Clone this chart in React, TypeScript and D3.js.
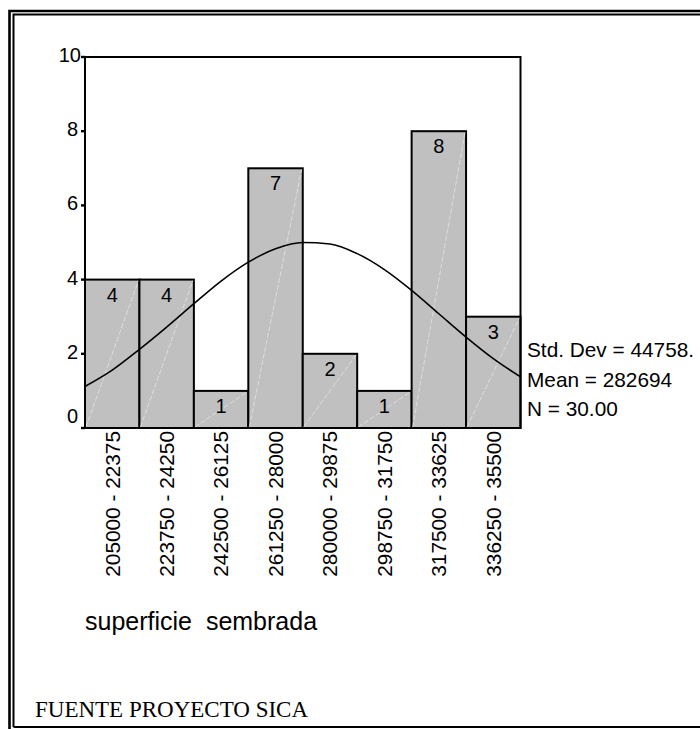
import * as d3 from 'd3'
import React from 'react'

// histogram bins (superficie sembrada)
const binLabels = [
  '205000 - 22375', '223750 - 24250', '242500 - 26125', '261250 - 28000',
  '280000 - 29875', '298750 - 31750', '317500 - 33625', '336250 - 35500',
]
const counts = [4, 4, 1, 7, 2, 1, 8, 3]
const yTicks = [0, 2, 4, 6, 8, 10]

// fitted normal curve
const curveX = [205000, 214375, 223750, 233125, 242500, 251875, 261250, 270625, 280000,
  289375, 298750, 308125, 317500, 326875, 336250, 345625, 355000]
const curveY = [1.12, 1.56, 2.12, 2.72, 3.35, 3.96, 4.47, 4.83, 5.0,
  4.96, 4.7, 4.27, 3.71, 3.08, 2.45, 1.87, 1.38]

const stats = ['Std. Dev = 44758.', 'Mean = 282694', 'N = 30.00']

const sans = "Arial, 'Liberation Sans', sans-serif"

export default function App() {
  const
    left = 85, right = 520.5, top = 57, bottom = 428,
    x = d3.scaleBand<string>().domain(binLabels).range([left, right]).padding(0),
    xv = d3.scaleLinear().domain([205000, 355000]).range([left, right]),
    y = d3.scaleLinear().domain([0, 10]).range([bottom, top]),
    line = d3.line<number>().x((_, i) => xv(curveX[i])).y(d => y(d)).curve(d3.curveMonotoneX)

  return (
    <svg width={700} height={729} style={{ position: 'absolute', left: 0, top: 0 }}>
      <rect width={700} height={729} fill='#fff' />
      {/* double frame */}
      <path d='M9.5,729 V11 H700' fill='none' stroke='#000' strokeWidth={2.6} />
      <path d='M13.5,727 V14.5 H700 M13.5,727 H700' fill='none' stroke='#000' strokeWidth={2} />

      {binLabels.map((b, i) => {
        const x0 = x(b)!, w = x.bandwidth(), yt = y(counts[i])
        return (
          <g key={b}>
            <rect x={x0} y={yt} width={w} height={bottom - yt} fill='#c0c0c0' stroke='#000' strokeWidth={2} />
            <line x1={x0 + 1} y1={bottom - 1} x2={x0 + w - 1} y2={yt + 1} stroke='#e4e4e4' strokeWidth={0.8} strokeDasharray='5,2' />
            <text x={x0 + w / 2} y={yt + 22} textAnchor='middle' fontFamily={sans} fontSize={20}>{counts[i]}</text>
            <text transform={`translate(${x0 + w / 2},431) rotate(-90)`} textAnchor='end' dy='0.35em'
              fontFamily={sans} fontSize={20.8}>{b}</text>
          </g>
        )
      })}

      <path d={line(curveY)!} fill='none' stroke='#000' strokeWidth={1.6} />

      <rect x={left} y={top} width={right - left} height={bottom - top} fill='none' stroke='#000' strokeWidth={2} />

      {yTicks.map(t => (
        <g key={t}>
          <line x1={81} x2={left} y1={y(t)} y2={y(t)} stroke='#000' strokeWidth={2.4} />
          <text x={t === 10 ? 81 : 78} y={y(t) + (t === 0 ? -5 : 5)} textAnchor='end' fontFamily={sans} fontSize={20}>{t}</text>
        </g>
      ))}

      {stats.map((s, i) => (
        <text key={s} x={527} y={357 + i * 29.5} fontFamily={sans} fontSize={20.8}>{s}</text>
      ))}

      <text x={85} y={630} fontFamily={sans} fontSize={25} style={{ whiteSpace: 'pre' }}>superficie  sembrada</text>
      <text x={35} y={716.5} fontFamily="'Times New Roman', 'Liberation Serif', serif" fontSize={23}>FUENTE PROYECTO SICA</text>
    </svg>
  )
}
